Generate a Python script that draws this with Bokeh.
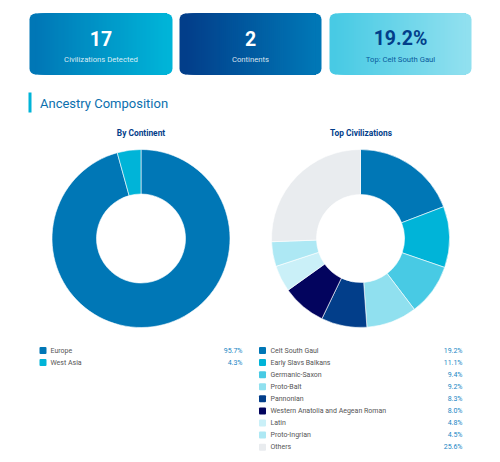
import numpy as np
from bokeh.plotting import figure
from bokeh.models import Range1d, ColumnDataSource
from bokeh.core.properties import value
from bokeh.embed import file_html
from bokeh.resources import INLINE

# ---------------- data ----------------
card_values = ["17", "2", "19.2%"]
card_labels = ["Civilizations Detected", "Continents", "Top: Celt South Gaul"]

continent_names = ["Europe", "West Asia"]
continent_pct = [95.7, 4.3]
continent_colors = ["#0077B6", "#00B4D8"]

civ_names = ["Celt South Gaul", "Early Slavs Balkans", "Germanic-Saxon", "Proto-Balt",
             "Pannonian", "Western Anatolia and Aegean Roman", "Latin", "Proto-Ingrian", "Others"]
civ_pct = [19.2, 11.1, 9.4, 9.2, 8.3, 8.0, 4.8, 4.5, 25.6]
civ_colors = ["#0077B6", "#00B4D8", "#48CAE4", "#90E0EF", "#023E8A", "#03045E",
              "#CAF0F8", "#ADE8F4", "#E9ECEF"]

W, H = 500, 462
FONT = "Roboto"

def Y(py):
    return H - py

p = figure(width=W, height=H, output_backend="svg", toolbar_location=None,
           x_range=Range1d(0, W), y_range=Range1d(0, H), min_border=0)
p.axis.visible = False
p.grid.visible = False
p.outline_line_color = None
p.background_fill_color = "white"
p.border_fill_color = "white"

# ---------------- cards ----------------
def hex2rgb(h):
    h = h.lstrip("#")
    return np.array([int(h[i:i+2], 16) for i in (0, 2, 4)], dtype=float)

def rgb2hex(c):
    return "#%02x%02x%02x" % tuple(int(round(v)) for v in c)

cards = [
    (29, 172, "#0077B6", "#00B4D8", "white", "rgba(255,255,255,0.85)"),
    (179, 321, "#023E8A", "#0077B6", "white", "rgba(255,255,255,0.85)"),
    (329, 471, "#48CAE4", "#90E0EF", "#023E8A", "#0A5A9C"),
]
ctop, cbot = 13, 74
r = 6
for i, (x0, x1, c0, c1, vcol, lcol) in enumerate(cards):
    a, b = hex2rgb(c0), hex2rgb(c1)
    p.quad(left=x0, right=x0 + r + 1, top=Y(ctop), bottom=Y(cbot), fill_color=c0,
           line_color=None, border_radius=(r, 0, 0, r))
    p.quad(left=x1 - r - 1, right=x1, top=Y(ctop), bottom=Y(cbot), fill_color=c1,
           line_color=None, border_radius=(0, r, r, 0))
    xs = np.arange(x0 + r, x1 - r, 2)
    n = len(xs)
    cols = [rgb2hex(a + (b - a) * ((k + 0.5) / n)) for k in range(n)]
    p.quad(left=list(xs), right=[x1 - r] * n, top=Y(ctop), bottom=Y(cbot),
           fill_color=cols, line_color=None)
    cx = (x0 + x1) / 2
    p.text(x=[cx], y=[Y(38)], text=[card_values[i]], text_align="center", text_baseline="middle",
           text_font=value(FONT), text_font_style="bold", text_font_size="19.5px", text_color=vcol)
    p.text(x=[cx], y=[Y(59)], text=[card_labels[i]], text_align="center", text_baseline="middle",
           text_font=value(FONT), text_font_size="7.7px", text_color=lcol)

# ---------------- section title ----------------
p.quad(left=28, right=31, top=Y(92), bottom=Y(112), fill_color="#00B4D8", line_color=None)
p.text(x=[39.5], y=[Y(102.5)], text=["Ancestry Composition"], text_align="left", text_baseline="middle",
       text_font=value(FONT), text_font_size="13px", text_color="#0B6FAE")

p.text(x=[140.5, 360.5], y=[Y(132), Y(132)], text=["By Continent", "Top Civilizations"],
       text_align="center", text_baseline="middle", text_font=value(FONT), text_font_style="bold",
       text_font_size="8.4px", text_color="#023E8A")

# ---------------- donuts ----------------
def donut(cx, cy, pcts, colors, r_in, r_out):
    vals = np.array(pcts, dtype=float)
    fr = vals / vals.sum()
    cum = np.concatenate([[0], np.cumsum(fr)])
    start = np.pi / 2 - 2 * np.pi * cum[:-1]
    end = np.pi / 2 - 2 * np.pi * cum[1:]
    src = ColumnDataSource(dict(start=start, end=end, color=colors))
    p.annular_wedge(x=cx, y=Y(cy), inner_radius=r_in, outer_radius=r_out,
                    start_angle="start", end_angle="end", direction="clock",
                    fill_color="color", line_color="white", line_width=0.6, source=src)

donut(140.5, 238, continent_pct, continent_colors, 44.5, 89)
donut(360, 238, civ_pct, civ_colors, 44, 89)

# ---------------- legends ----------------
def legend(x_sq, x_lab, x_pct, names, pcts, colors, y0=350, dy=12.08):
    ys = [Y(y0 + i * dy) for i in range(len(names))]
    p.quad(left=[x_sq - 3.5] * len(names), right=[x_sq + 3.5] * len(names),
           top=[y + 3.5 for y in ys], bottom=[y - 3.5 for y in ys],
           fill_color=colors, line_color=None, border_radius=1)
    p.text(x=[x_lab] * len(names), y=ys, text=names, text_align="left", text_baseline="middle",
           text_font=value(FONT), text_font_size="7px", text_color="#555555")
    p.text(x=[x_pct] * len(names), y=ys, text=["%.1f%%" % v for v in pcts], text_align="right",
           text_baseline="middle", text_font=value(FONT), text_font_size="7px", text_color="#1A86C4")

legend(42.5, 50, 242, continent_names, continent_pct, continent_colors)
legend(262, 270, 462, civ_names, civ_pct, civ_colors)

open("out.html", "w").write(file_html(p, INLINE))
